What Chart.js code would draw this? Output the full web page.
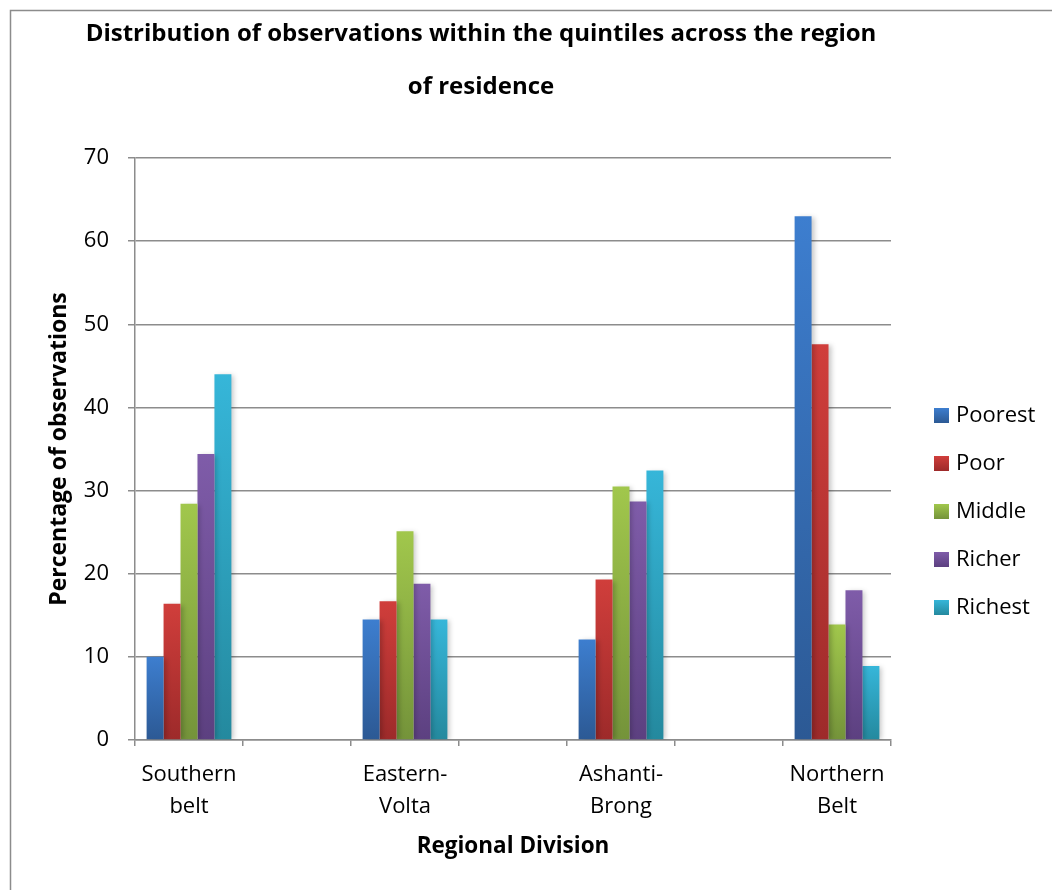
<!DOCTYPE html>
<html>
<head>
<meta charset="utf-8">
<title>Distribution of observations within the quintiles across the region of residence</title>
<script src="https://cdn.jsdelivr.net/npm/chart.js@4/dist/chart.umd.min.js"></script>
<style>
  html, body { margin: 0; padding: 0; background: #ffffff; }
  #wrap { width: 1052px; height: 890px; position: relative; }
</style>
</head>
<body>
<div id="wrap"><canvas id="quintileChart" width="1052" height="890"></canvas></div>
<script>
// ---- data ----
const titleLines = ['Distribution of observations within the quintiles across the region', 'of residence'];
const regions = ['Southern belt', 'Eastern-Volta', 'Ashanti-Brong', 'Northern Belt'];
const regionLabelLines = [['Southern', 'belt'], ['Eastern-', 'Volta'], ['Ashanti-', 'Brong'], ['Northern', 'Belt']];
const quintiles = ['Poorest', 'Poor', 'Middle', 'Richer', 'Richest'];
const poorest = [10.0, 14.5, 12.1, 63.0];
const poor    = [16.4, 16.7, 19.3, 47.6];
const middle  = [28.4, 25.1, 30.5, 13.9];
const richer  = [34.4, 18.8, 28.7, 18.0];
const richest = [44.0, 14.5, 32.4, 8.9];
const yTicks = [0, 10, 20, 30, 40, 50, 60, 70];
const xAxisTitle = 'Regional Division';
const yAxisTitle = 'Percentage of observations';

// ---- styling ----
const FONT = '"Open Sans", "DejaVu Sans", sans-serif';
const AXIS_GREY = '#8c8c8c';
const shades = [
  ['#3d7ecf', '#2c5994'],   // Poorest
  ['#d03e3b', '#9d2a2a'],   // Poor
  ['#a1c74c', '#74933a'],   // Middle
  ['#7f5ca9', '#5c4080'],   // Richer
  ['#36b6d9', '#24899e']    // Richest
];
const seriesValues = [poorest, poor, middle, richer, richest];

// Each region gets a slot, with an empty spacer slot between neighbouring regions.
const slots = [];
const slotRegion = [];
regions.forEach((r, i) => {
  slots.push(r); slotRegion.push(i);
  if (i < regions.length - 1) { slots.push(''); slotRegion.push(-1); }
});
const toSlots = vals => slotRegion.map(ri => (ri < 0 ? null : vals[ri]));

function barGradient(pair) {
  return function (ctx) {
    const chart = ctx.chart;
    if (!chart.chartArea || ctx.raw == null) return pair[0];
    const ys = chart.scales.y;
    const yTop = ys.getPixelForValue(ctx.raw);
    const yBot = ys.getPixelForValue(0);
    const g = chart.ctx.createLinearGradient(0, yTop, 0, yBot);
    g.addColorStop(0, pair[0]);
    g.addColorStop(1, pair[1]);
    return g;
  };
}

const datasets = quintiles.map((q, i) => ({
  label: q,
  data: toSlots(seriesValues[i]),
  backgroundColor: barGradient(shades[i]),
  borderWidth: 0,
  categoryPercentage: 0.785,
  barPercentage: 1.0
}));

// Page frame, background and bar shadows
const framePlugin = {
  id: 'frame',
  beforeDraw(chart) {
    const c = chart.ctx;
    c.save();
    c.fillStyle = '#ffffff';
    c.fillRect(0, 0, chart.width, chart.height);
    c.strokeStyle = AXIS_GREY;
    c.lineWidth = 1.5;
    c.strokeRect(10.5, 10.5, chart.width + 40, chart.height + 40);
    c.restore();
  },
  beforeDatasetsDraw(chart) {
    const c = chart.ctx;
    c.save();
    c.shadowColor = 'rgba(0,0,0,0.22)';
    c.shadowBlur = 5;
    c.shadowOffsetX = 3;
    c.shadowOffsetY = 1;
  },
  afterDatasetsDraw(chart) {
    chart.ctx.restore();
  }
};

// Two-line heading
const headingPlugin = {
  id: 'heading',
  afterDraw(chart) {
    const c = chart.ctx;
    c.save();
    c.fillStyle = '#000000';
    c.font = 'bold 24px ' + FONT;
    c.textAlign = 'center';
    c.textBaseline = 'middle';
    const ys = [34, 87];
    titleLines.forEach((t, i) => c.fillText(t, 481, ys[i]));
    c.restore();
  }
};

// Vertical legend on the right
const legendPlugin = {
  id: 'sideLegend',
  afterDraw(chart) {
    const c = chart.ctx;
    c.save();
    c.font = '22px ' + FONT;
    c.textBaseline = 'middle';
    c.textAlign = 'left';
    chart.data.datasets.forEach((ds, i) => {
      const cy = 415.5 + i * 48;
      const g = c.createLinearGradient(0, cy - 7.5, 0, cy + 7.5);
      g.addColorStop(0, shades[i][0]);
      g.addColorStop(1, shades[i][1]);
      c.fillStyle = g;
      c.fillRect(934, cy - 7.5, 15, 15);
      c.fillStyle = '#000000';
      c.fillText(ds.label, 956, cy);
    });
    c.restore();
  }
};

new Chart(document.getElementById('quintileChart'), {
  type: 'bar',
  data: { labels: slots, datasets },
  plugins: [framePlugin, headingPlugin, legendPlugin],
  options: {
    responsive: false,
    animation: false,
    devicePixelRatio: 1,
    layout: { padding: { top: 158, right: 161, left: 0, bottom: 0 } },
    plugins: {
      legend: { display: false },
      title: { display: false },
      tooltip: { enabled: false }
    },
    scales: {
      x: {
        afterFit(s) { s.height = 150; },
        grid: {
          offset: true,
          drawOnChartArea: false,
          drawTicks: true,
          tickLength: 6,
          color: AXIS_GREY,
          lineWidth: 1.5
        },
        border: { display: true, color: AXIS_GREY, width: 1.5 },
        ticks: {
          autoSkip: false,
          maxRotation: 0,
          padding: 13,
          color: '#000000',
          font: { family: FONT, size: 22, lineHeight: 1.45 },
          callback: (v, idx) => (slotRegion[idx] >= 0 ? regionLabelLines[slotRegion[idx]] : '')
        },
        title: {
          display: true,
          text: xAxisTitle,
          color: '#000000',
          font: { family: FONT, size: 22.5, weight: 'bold', lineHeight: 1.2 },
          padding: { top: 0, bottom: 30 }
        }
      },
      y: {
        min: yTicks[0],
        max: yTicks[yTicks.length - 1],
        afterFit(s) { s.width = 135; },
        afterBuildTicks(s) { s.ticks = yTicks.map(v => ({ value: v })); },
        grid: {
          color: AXIS_GREY,
          lineWidth: 1.5,
          drawTicks: true,
          tickLength: 7
        },
        border: { display: true, color: AXIS_GREY, width: 1.5 },
        ticks: {
          padding: 19,
          color: '#000000',
          font: { family: FONT, size: 22 }
        },
        title: {
          display: true,
          text: yAxisTitle,
          color: '#000000',
          font: { family: FONT, size: 23, weight: 'bold', lineHeight: 1.2 },
          padding: { top: 46, bottom: 0 }
        }
      }
    }
  }
});
</script>
</body>
</html>
